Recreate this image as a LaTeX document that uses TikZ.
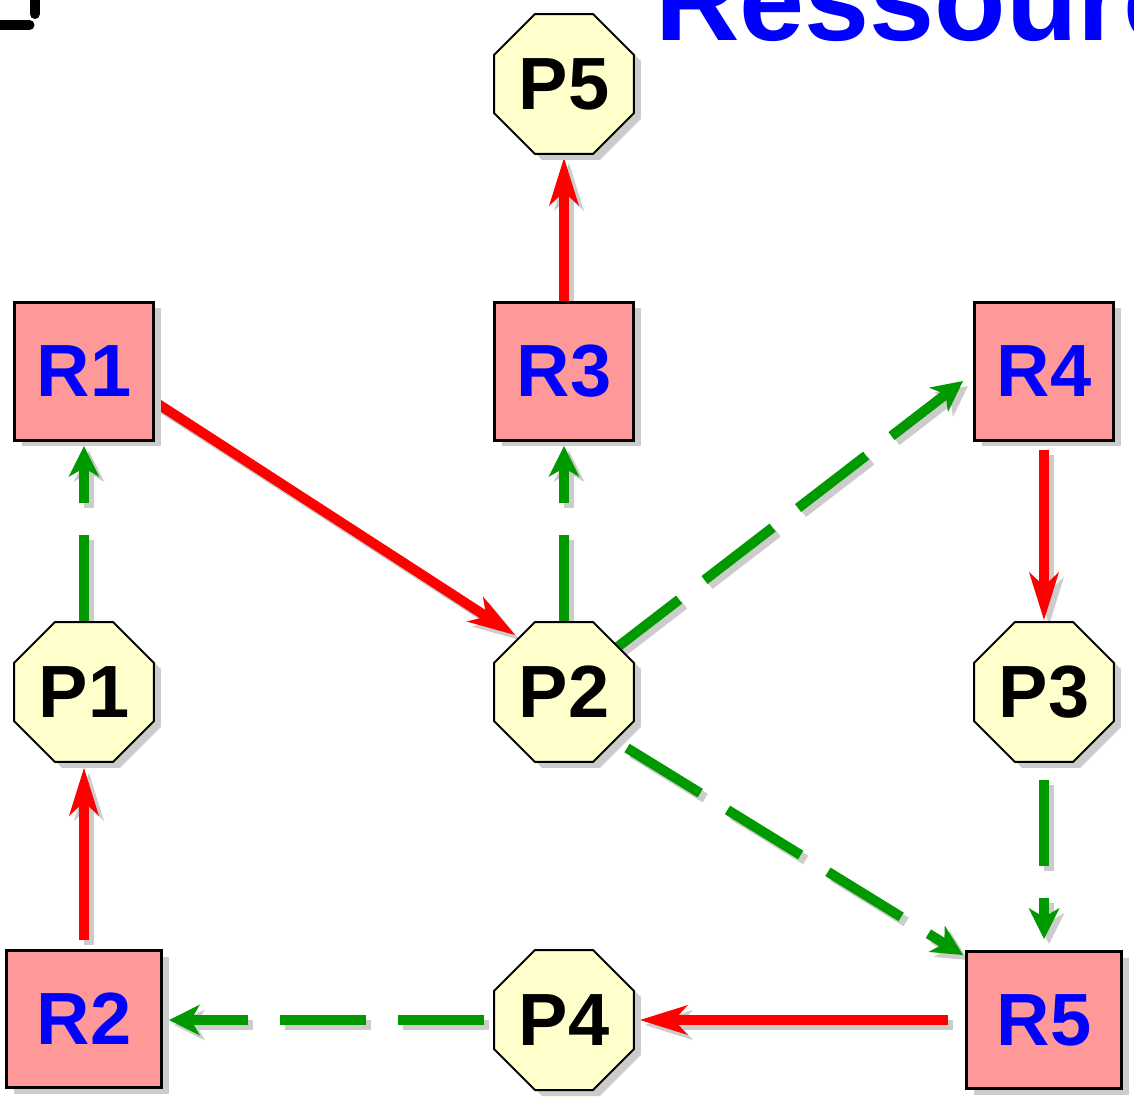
\documentclass[tikz,border=0pt]{standalone}
\usepackage{fontspec}
\setmainfont{Liberation Sans}
\usetikzlibrary{arrows.meta,shapes.geometric,shadows,backgrounds,calc}

\definecolor{resfill}{HTML}{FF9999}
\definecolor{procfill}{HTML}{FFFFCC}
\definecolor{holdred}{HTML}{FF0000}
\definecolor{waitgreen}{HTML}{009900}
\definecolor{resblue}{HTML}{0000FF}

\tikzset{
  nodeshadow/.style={drop shadow={shadow xshift=7pt, shadow yshift=-6pt, fill=black!20, opacity=1}},
  labelfont/.style={font=\fontsize{74}{74}\selectfont\bfseries},
  resource/.style={rectangle, draw=black, line width=3pt, fill=resfill, nodeshadow,
    inner sep=0pt, labelfont, text=resblue, minimum width=139pt, minimum height=138pt},
  wideresource/.style={resource, minimum width=155pt, minimum height=137pt},
  process/.style={regular polygon, regular polygon sides=8, minimum size=151.5pt,
    draw=black, line width=2pt, fill=procfill, nodeshadow, inner sep=0pt,
    labelfont, text=black},
  holds/.style={draw=holdred, line width=10pt,
    -{Stealth[length=48pt,width=30pt,inset=14pt,line width=0pt]}},
  requests/.style={draw=waitgreen, line width=10pt, dash pattern=on 86pt off 32pt,
    -{Stealth[length=31pt,width=31pt,inset=9pt,line width=0pt]}},
  lineshadow/.style={draw=black!20, transform canvas={shift={(5pt,-5pt)}}},
  corner/.style={draw=black, line width=10pt, line cap=round},
}

% a connector with its offset grey shadow
\newcommand\linkpath[3]{%
  \draw[#1, lineshadow] #2 -- #3;
  \draw[#1] #2 -- #3;}

\begin{document}
\begin{tikzpicture}[x=1pt, y=-1pt]
\useasboundingbox (0,0) rectangle (1134,1096);

% corner mark and heading
\draw[corner] (34.7,-12) -- (34.7,14);
\draw[corner] (-12,25) -- (29.5,25);
\node[anchor=base west, inner sep=0pt, text=resblue,
      font=\fontsize{117}{117}\selectfont\bfseries] (title) at (655,40) {Ressourc};

% resources
\node[resource] (R1) at (84,371) {R1};
\node[resource] (R3) at (564,371) {R3};
\node[resource] (R4) at (1044,371) {R4};
\node[wideresource] (R2) at (84,1019) {R2};
\node[wideresource] (R5) at (1044,1020) {R5};

% processes
\node[process] (P5) at (564,84) {P5};
\node[process] (P1) at (84,692) {P1};
\node[process] (P2) at (564,692) {P2};
\node[process] (P3) at (1044,692) {P3};
\node[process] (P4) at (564,1020) {P4};

\begin{scope}[on background layer]
  % allocations (resource -> process)
  \linkpath{holds}{($(R1)+(71,31)$)}{($(P2)+(-49,-57)$)}
  \linkpath{holds}{($(R3)+(0,-70)$)}{($(P5)+(0,74)$)}
  \linkpath{holds}{($(R4)+(0,79)$)}{($(P3)+(0,-72)$)}
  \linkpath{holds}{($(R2)+(0,-79)$)}{($(P1)+(0,76)$)}
  \linkpath{holds}{($(R5)+(-96,0)$)}{($(P4)+(76,0)$)}
  % requests (process -> resource)
  \linkpath{requests}{($(P1)+(0,-71)$)}{($(R1)+(0,75)$)}
  \linkpath{requests}{($(P2)+(0,-71)$)}{($(R3)+(0,75)$)}
  \linkpath{requests}{($(P2)+(47,-40)$)}{($(R4)+(-81,10)$)}
  \linkpath{requests}{($(P2)+(63,56)$)}{($(R5)+(-81,-65)$)}
  \linkpath{requests}{($(P3)+(0,88)$)}{($(R5)+(0,-81)$)}
  \linkpath{requests}{($(P4)+(-80,0)$)}{($(R2)+(85,1)$)}
\end{scope}
\end{tikzpicture}
\end{document}
